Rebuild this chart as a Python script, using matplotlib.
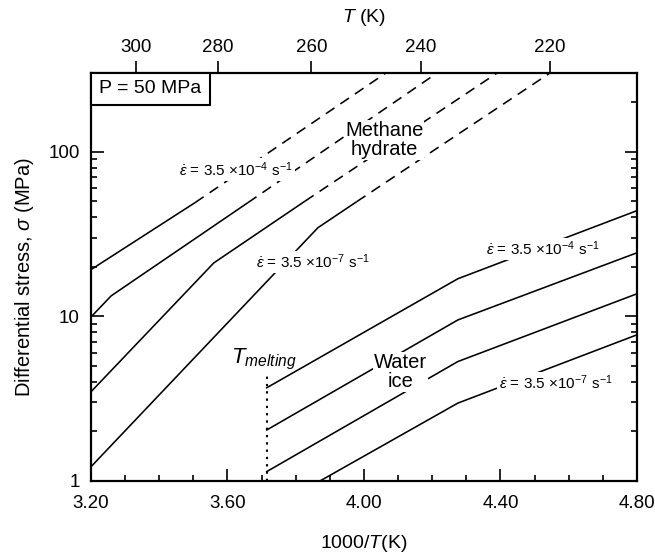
import matplotlib
matplotlib.use("Agg")
import matplotlib.pyplot as plt
import numpy as np
from matplotlib.patches import Rectangle
from matplotlib.ticker import FixedLocator, LogLocator, NullFormatter, FuncFormatter

# methane hydrate flow laws (x = 1000/T, y = stress MPa); solid up to index BREAK, dashed after
HYD_X = [
    [3.20, 3.505, 4.064],
    [3.20, 3.259, 3.660, 4.214],
    [3.20, 3.560, 3.827, 4.390],
    [3.20, 3.865, 3.979, 4.545],
]
HYD_S = [
    [19.2, 49.0, 300],
    [9.9, 13.3, 49.0, 300],
    [3.48, 21.1, 50.0, 300],
    [1.22, 34.5, 49.7, 300],
]
HYD_BREAK = [1, 2, 2, 2]

# water ice flow laws
ICE_X = [
    [3.715, 4.275, 4.80],
    [3.715, 4.275, 4.80],
    [3.715, 4.275, 4.80],
    [3.871, 4.275, 4.80],
]
ICE_S = [
    [3.68, 16.9, 43.8],
    [2.04, 9.5, 24.3],
    [1.14, 5.31, 13.7],
    [1.0, 2.97, 7.72],
]

T_MELT = 3.715
T_MELT_TOP = 4.4

X_MAJOR = [3.20, 3.60, 4.00, 4.40, 4.80]
X_MINOR = np.round(np.arange(3.2, 4.81, 0.1), 2)
T_TICKS = [300, 280, 260, 240, 220]
Y_MAJOR = [1, 10, 100]

plt.rcParams.update({
    "font.family": ["Liberation Sans", "DejaVu Sans"],
    "mathtext.fontset": "custom",
    "mathtext.rm": "Liberation Sans",
    "mathtext.it": "Liberation Sans:italic",
    "font.size": 13.5,
})

fig = plt.figure(figsize=(6.55, 5.54), dpi=100)
ax = fig.add_axes([0.1389, 0.1318, 0.8336, 0.7364])

LW = 1.15
for xs, ss, b in zip(HYD_X, HYD_S, HYD_BREAK):
    ax.plot(xs[:b + 1], ss[:b + 1], color="black", lw=LW, solid_capstyle="butt")
    ax.plot(xs[b:], ss[b:], color="black", lw=LW, dashes=(6.5, 4.5), dash_capstyle="butt")

for xs, ss in zip(ICE_X, ICE_S):
    ax.plot(xs, ss, color="black", lw=LW)

ax.plot([T_MELT, T_MELT], [1, T_MELT_TOP], color="black", lw=1.5, dashes=(1.1, 2.4))

ax.set_yscale("log")
ax.set_xlim(3.2, 4.8)
ax.set_ylim(1, 300)

ax.xaxis.set_major_locator(FixedLocator(X_MAJOR))
ax.xaxis.set_minor_locator(FixedLocator(X_MINOR))
ax.xaxis.set_major_formatter(FuncFormatter(lambda v, p: f"{v:.2f}"))
ax.yaxis.set_major_locator(FixedLocator(Y_MAJOR))
ax.yaxis.set_minor_locator(LogLocator(base=10, subs=np.arange(2, 10)))
ax.yaxis.set_major_formatter(FuncFormatter(lambda v, p: f"{v:g}"))
ax.yaxis.set_minor_formatter(NullFormatter())

ax.tick_params(which="both", direction="in", top=True, right=True, width=1.2)
ax.tick_params(which="major", length=9)
ax.tick_params(which="minor", length=4.5)
ax.tick_params(axis="x", which="major", pad=10, labelsize=13.5)
ax.tick_params(axis="y", which="major", pad=8, labelsize=13.5)
for sp in ax.spines.values():
    sp.set_linewidth(1.6)

ax.set_xlabel(r"1000/$T$(K)", fontsize=14, labelpad=15)
ax.set_ylabel(r"Differential stress, $\sigma$ (MPa)", fontsize=14.5, labelpad=9)

# top temperature axis
ax2 = ax.twiny()
ax2.set_xlim(ax.get_xlim())
ax2.set_xticks([1000.0 / t for t in T_TICKS])
ax2.set_xticklabels([str(t) for t in T_TICKS])
ax2.xaxis.set_minor_locator(FixedLocator([]))
ax2.tick_params(axis="x", which="major", direction="out", length=9, width=1.2, pad=3.5, labelsize=13.5)
ax2.set_xlabel(r"$T$ (K)", fontsize=14, labelpad=12)
for sp in ax2.spines.values():
    sp.set_visible(False)

# P box flush with the top-left corner
ax.add_patch(Rectangle((0, 1 - 0.078), 0.218, 0.078, transform=ax.transAxes,
                       fc="white", ec="black", lw=1.5, zorder=5, clip_on=False))
ax.text(0.109, 1 - 0.039, "P = 50 MPa", transform=ax.transAxes, ha="center", va="center",
        fontsize=14, zorder=6)

box = dict(boxstyle="square,pad=0.12", fc="white", ec="none")
lab4 = r"$\dot{\varepsilon}$ = 3.5 $\times$10$^{-4}$ s$^{-1}$"
lab7 = r"$\dot{\varepsilon}$ = 3.5 $\times$10$^{-7}$ s$^{-1}$"
LFS = 11
ax.text(3.625, 77.8, lab4, ha="center", va="center", fontsize=LFS, bbox=box, zorder=4)
ax.text(3.851, 21.4, lab7, ha="center", va="center", fontsize=LFS, bbox=box, zorder=4)
ax.text(4.525, 25.7, lab4, ha="center", va="center", fontsize=LFS, bbox=box, zorder=4)
ax.text(4.563, 3.94, lab7, ha="center", va="center", fontsize=LFS, bbox=box, zorder=4)
ax.text(4.059, 118, "Methane\nhydrate", ha="center", va="center", fontsize=14.5,
        linespacing=1.0, bbox=dict(boxstyle="square,pad=0.05", fc="white", ec="none"), zorder=4)
ax.text(4.108, 4.6, "Water\nice", ha="center", va="center", fontsize=14.5,
        linespacing=1.0, bbox=dict(boxstyle="square,pad=0.05", fc="white", ec="none"), zorder=4)
ax.text(3.705, 5.44, r"$T_{melting}$", ha="center", va="center", fontsize=16, zorder=4)

fig.savefig("out.png", dpi=100)
